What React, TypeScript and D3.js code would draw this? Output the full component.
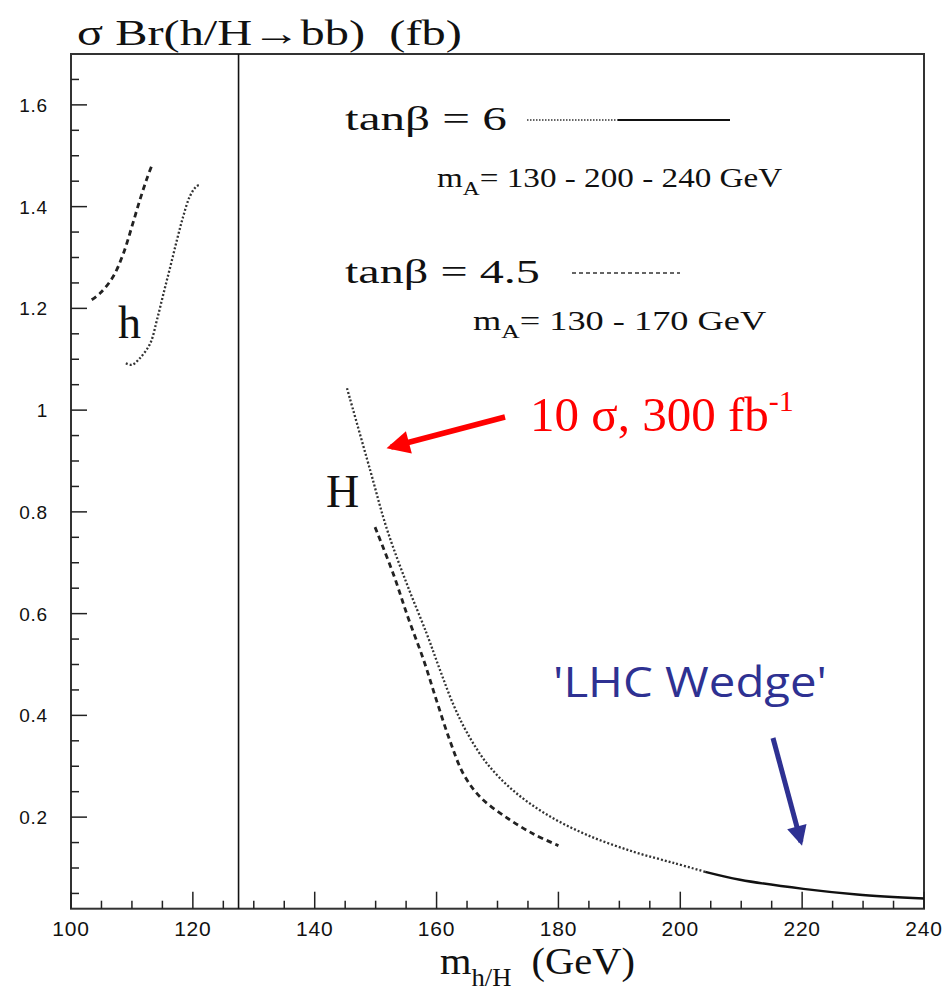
import React, { useLayoutEffect, useRef, useState } from "react";
import * as d3 from "d3";

// ---- data ----
const xMajorTicks = [100, 120, 140, 160, 180, 200, 220, 240];
const yMajorTicks = [0.2, 0.4, 0.6, 0.8, 1.0, 1.2, 1.4, 1.6];
const yTickLabels = ["0.2", "0.4", "0.6", "0.8", "1", "1.2", "1.4", "1.6"];
const xDomain = [100, 240];
const yDomain = [0.02, 1.7];
const dividerX = 127.5;

// h, tanβ = 4.5 (dashed)
const hDashedX = [103.4, 104.8, 106.9, 108.6, 110.0, 111.3, 112.4, 113.2];
const hDashedY = [1.217, 1.230, 1.262, 1.308, 1.361, 1.413, 1.453, 1.479];
// h, tanβ = 6 (dotted)
const hDottedX = [109.0, 110.0, 111.3, 113.0, 114.1, 115.2, 116.3, 117.4, 118.4, 119.5, 120.6, 121.2];
const hDottedY = [1.092, 1.089, 1.102, 1.131, 1.177, 1.230, 1.282, 1.335, 1.380, 1.420, 1.440, 1.443];
// H, tanβ = 6 (dotted part, mA 130-200)
const HDottedX = [145.3, 149.1, 151.8, 155.1, 158.4, 160.6, 162.8, 165.0, 168.3, 172.6, 178.1, 184.7, 192.3, 198.9, 204.1];
const HDottedY = [1.043, 0.882, 0.768, 0.659, 0.560, 0.488, 0.420, 0.366, 0.305, 0.252, 0.205, 0.165, 0.132, 0.110, 0.0925];
// H, tanβ = 6 (solid part, mA 200-240)
const HSolidX = [204.1, 209.8, 220.2, 229.0, 240.0];
const HSolidY = [0.0925, 0.077, 0.059, 0.048, 0.040];
// H, tanβ = 4.5 (dashed)
const HDashedX = [149.9, 152.9, 155.3, 157.9, 160.0, 162.2, 164.4, 167.2, 171.5, 175.9, 180.0];
const HDashedY = [0.770, 0.678, 0.593, 0.508, 0.429, 0.350, 0.285, 0.239, 0.199, 0.167, 0.144];

const W = 948;
const H = 995;
const M = { left: 71, right: 924, top: 54, bottom: 908.7 };

const serif = "'Liberation Serif', 'Times New Roman', serif";
const sans = "'Liberation Sans', Arial, sans-serif";

// Text stretched horizontally to a target width (the reference glyphs are wide)
function FitText(props: {
  x: number;
  y: number;
  width: number;
  children: React.ReactNode;
  [k: string]: any;
}) {
  const { x, y, width, children, ...rest } = props;
  const ref = useRef<SVGTextElement>(null);
  const [sx, setSx] = useState(1);
  useLayoutEffect(() => {
    if (ref.current) {
      const w = ref.current.getBBox().width;
      if (w > 0) setSx(width / w);
    }
  }, [width]);
  return (
    <text
      ref={ref}
      x={x}
      y={y}
      transform={`translate(${x},0) scale(${sx},1) translate(${-x},0)`}
      style={{ whiteSpace: "pre" }}
      {...rest}
    >
      {children}
    </text>
  );
}

export default function App() {
  const x = d3.scaleLinear().domain(xDomain).range([M.left, M.right]);
  const y = d3.scaleLinear().domain(yDomain).range([M.bottom, M.top]);
  const line = d3
    .line<[number, number]>()
    .x((d) => x(d[0]))
    .y((d) => y(d[1]))
    .curve(d3.curveCatmullRom.alpha(0.5));
  const zip = (a: number[], b: number[]) => a.map((v, i) => [v, b[i]] as [number, number]);

  const xMinor = d3.range(105, 240, 5).filter((v) => v % 20 !== 0);
  const yMinor = d3
    .range(1, 34)
    .map((i) => i * 0.05)
    .filter((v) => Math.abs(v * 5 - Math.round(v * 5)) > 1e-6);

  const dotted = { fill: "none", stroke: "#333", strokeWidth: 2.3, strokeDasharray: "2 2" };
  const dashed = { fill: "none", stroke: "#222", strokeWidth: 2.8, strokeDasharray: "5.5 4" };

  return (
    <svg width={W} height={H} style={{ position: "absolute", left: 0, top: 0, background: "#fff" }}>
      <rect x={0} y={0} width={W} height={H} fill="#fff" />
      {/* title */}
      <FitText x={77} y={45} width={385} fontFamily={serif} fontSize={35} fill="#111">
        {"σ Br(h/H→bb)  (fb)"}
      </FitText>

      {/* frame */}
      <rect
        x={M.left}
        y={M.top}
        width={M.right - M.left}
        height={M.bottom - M.top}
        fill="none"
        stroke="#333"
        strokeWidth={2}
      />
      <line x1={x(dividerX)} x2={x(dividerX)} y1={M.top} y2={M.bottom} stroke="#111" strokeWidth={1.6} />

      {/* x ticks */}
      {xMajorTicks.map((t) => (
        <g key={"xt" + t}>
          <line x1={x(t)} x2={x(t)} y1={M.bottom} y2={M.bottom - 17} stroke="#222" strokeWidth={1.5} />
          <text x={x(t)} y={936} textAnchor="middle" fontFamily={sans} fontSize={21} letterSpacing={0.8} fill="#111">
            {t}
          </text>
        </g>
      ))}
      {xMinor.map((t) => (
        <line key={"xm" + t} x1={x(t)} x2={x(t)} y1={M.bottom} y2={M.bottom - 8} stroke="#222" strokeWidth={1.5} />
      ))}

      {/* y ticks */}
      {yMajorTicks.map((t, i) => (
        <g key={"yt" + t}>
          <line x1={M.left} x2={M.left + 16} y1={y(t)} y2={y(t)} stroke="#222" strokeWidth={1.5} />
          <text x={48} y={y(t) + 7} textAnchor="end" fontFamily={sans} fontSize={19} letterSpacing={0.8} fill="#111">
            {yTickLabels[i]}
          </text>
        </g>
      ))}
      {yMinor.map((t) => (
        <line key={"ym" + t} x1={M.left} x2={M.left + 8} y1={y(t)} y2={y(t)} stroke="#222" strokeWidth={1.5} />
      ))}

      {/* x axis title */}
      <FitText x={440} y={974} width={195} fontFamily={serif} fontSize={38} fill="#111">
        m
        <tspan fontSize={25} dy={12}>h/H</tspan>
        <tspan dy={-12}>{"  (GeV)"}</tspan>
      </FitText>

      {/* curves */}
      <path d={line(zip(hDashedX, hDashedY)) || ""} {...dashed} />
      <path d={line(zip(hDottedX, hDottedY)) || ""} {...dotted} />
      <path d={line(zip(HDottedX, HDottedY)) || ""} {...dotted} />
      <path d={line(zip(HSolidX, HSolidY)) || ""} fill="none" stroke="#111" strokeWidth={2.4} />
      <path d={line(zip(HDashedX, HDashedY)) || ""} {...dashed} />

      {/* curve labels */}
      <text x={118} y={338} fontFamily={serif} fontSize={46} fill="#111">h</text>
      <text x={326} y={507} fontFamily={serif} fontSize={46} fill="#111">H</text>

      {/* legend */}
      <FitText x={345} y={130} width={162} fontFamily={serif} fontSize={34} fill="#111">
        tanβ = 6
      </FitText>
      <line x1={527} x2={618} y1={120} y2={120} stroke="#333" strokeWidth={1.4} strokeDasharray="1.5 1.5" />
      <line x1={618} x2={730} y1={120} y2={120} stroke="#111" strokeWidth={2} />
      <FitText x={437} y={187} width={346} fontFamily={serif} fontSize={27} fill="#111">
        m<tspan fontSize={19} dy={8}>A</tspan>
        <tspan dy={-8}>= 130 - 200 - 240 GeV</tspan>
      </FitText>
      <FitText x={345} y={283} width={195} fontFamily={serif} fontSize={34} fill="#111">
        tanβ = 4.5
      </FitText>
      <line x1={572} x2={680} y1={273} y2={273} stroke="#333" strokeWidth={1.4} strokeDasharray="4 3" />
      <FitText x={473} y={330} width={294} fontFamily={serif} fontSize={27} fill="#111">
        m<tspan fontSize={19} dy={8}>A</tspan>
        <tspan dy={-8}>= 130 - 170 GeV</tspan>
      </FitText>

      {/* red annotation */}
      <defs>
        <marker id="redHead" viewBox="0 0 10 10" refX={8} refY={5} markerWidth={5} markerHeight={4.2} orient="auto" markerUnits="strokeWidth">
          <path d="M0,0 L10,5 L0,10 z" fill="#ff0000" />
        </marker>
        <marker id="blueHead" viewBox="0 0 10 10" refX={8} refY={5} markerWidth={4.5} markerHeight={4} orient="auto" markerUnits="strokeWidth">
          <path d="M0,0 L10,5 L0,10 z" fill="#2e3192" />
        </marker>
      </defs>
      <line x1={505} y1={417} x2={391} y2={447} stroke="#ff0000" strokeWidth={5.5} markerEnd="url(#redHead)" />
      <text x={530} y={431} fontFamily={serif} fontSize={49} fill="#ff0000" style={{ whiteSpace: "pre" }}>
        {"10 σ, 300 fb"}
        <tspan fontSize={30} dy={-20}>-1</tspan>
      </text>

      {/* blue annotation */}
      <text
        x={553}
        y={697}
        fontFamily="'Open Sans', sans-serif"
        fontSize={42}
        fill="#2e3192"
        textLength={274}
        lengthAdjust="spacingAndGlyphs"
      >
        'LHC Wedge'
      </text>
      <line x1={773} y1={738} x2={801} y2={842} stroke="#2e3192" strokeWidth={5} markerEnd="url(#blueHead)" />
    </svg>
  );
}
